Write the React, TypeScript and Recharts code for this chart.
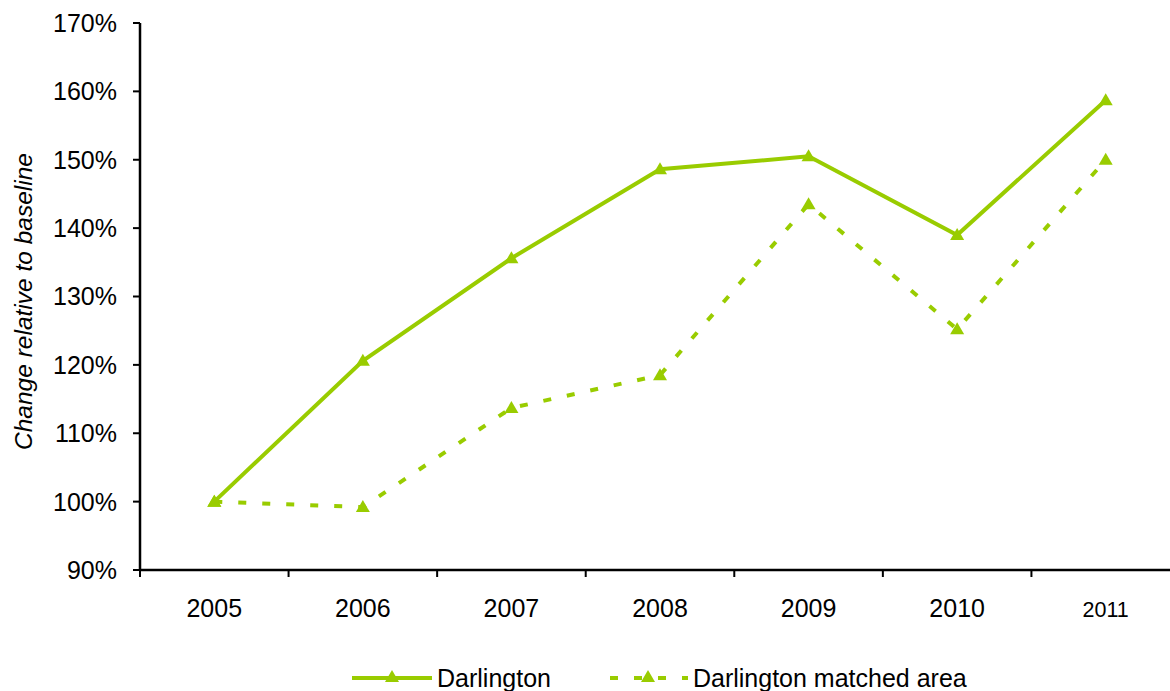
import React from 'react';
import { LineChart, Line, XAxis, YAxis, Legend } from 'recharts';

const years = ['2005', '2006', '2007', '2008', '2009', '2010', '2011'];
const darlington = [100, 120.6, 135.6, 148.6, 150.5, 139.0, 158.7];
const matchedArea = [100, 99.2, 113.7, 118.5, 143.5, 125.2, 150.0];
const yTicks = [90, 100, 110, 120, 130, 140, 150, 160, 170];
const boundaryTicks = [0, 1, 2, 3, 4, 5, 6, 7];
const seriesNames = ['Darlington', 'Darlington matched area'];

const data = years.map((y, i) => ({
  year: y,
  slot: i + 0.5,
  darlington: darlington[i],
  matched: matchedArea[i],
}));

const GREEN = '#99cc00';
const FONT = 'Arial, "Liberation Sans", sans-serif';

const Triangle = (props: any) => {
  const { cx, cy } = props;
  if (cx == null || cy == null) return null;
  return (
    <path
      d={`M${cx},${cy - 7} L${cx + 7},${cy + 5} L${cx - 7},${cy + 5} Z`}
      fill={GREEN}
      stroke="none"
    />
  );
};

const EmptyTick = () => <g />;

const YearTick = (props: any) => {
  const { x, y, payload } = props;
  const small = payload.value === '2011';
  return (
    <text
      x={x}
      y={y + 46}
      textAnchor="middle"
      fill="#000"
      fontFamily={FONT}
      fontSize={small ? 21.5 : 25}
    >
      {payload.value}
    </text>
  );
};

const LegendContent = (props: any) => {
  const { payload } = props;
  return (
    <div style={{ display: 'flex', alignItems: 'center', height: 28, fontFamily: FONT, fontSize: 25, color: '#000' }}>
      {(payload || []).map((entry: any, i: number) => (
        <div key={i} style={{ display: 'flex', alignItems: 'center', marginRight: i === 0 ? 57 : 0 }}>
          <svg width={80} height={28} style={{ display: 'block' }}>
            <line
              x1={0}
              y1={14}
              x2={80}
              y2={14}
              stroke={GREEN}
              strokeWidth={4}
              strokeDasharray={i === 1 ? '8 16' : undefined}
              strokeDashoffset={i === 1 ? -2 : 0}
            />
            <path d="M40,6 L47,18 L33,18 Z" fill={GREEN} />
          </svg>
          <span style={{ marginLeft: 5, lineHeight: '28px' }}>{seriesNames[i] ?? entry.value}</span>
        </div>
      ))}
    </div>
  );
};

export default function App() {
  return (
    <div style={{ position: 'absolute', left: 0, top: 0, width: 1170, height: 691, overflow: 'hidden', background: '#fff' }}>
      <LineChart width={1180} height={691} data={data} margin={{ top: 23, right: 0, left: 0, bottom: 0 }}>
        <XAxis
          xAxisId="a_marks"
          dataKey="slot"
          type="number"
          domain={[0, 7]}
          ticks={boundaryTicks}
          interval={0}
          tick={<EmptyTick />}
          tickLine={{ stroke: '#000', strokeWidth: 2 }}
          tickSize={7}
          axisLine={{ stroke: '#000', strokeWidth: 2.5 }}
          height={1}
          allowDataOverflow
        />
        <XAxis
          xAxisId="b_cat"
          dataKey="year"
          type="category"
          scale="band"
          axisLine={false}
          tickLine={false}
          tickSize={0}
          tickMargin={0}
          tick={<YearTick />}
          height={92}
          interval={0}
        />
        <YAxis
          domain={[90, 170]}
          ticks={yTicks}
          width={140}
          tickSize={7}
          tickMargin={16}
          tickFormatter={(v: number) => `${v}%`}
          tick={{ fill: '#000', fontFamily: FONT, fontSize: 25 }}
          tickLine={{ stroke: '#000', strokeWidth: 2 }}
          axisLine={{ stroke: '#000', strokeWidth: 2.5 }}
          allowDataOverflow
          label={{
            content: (p: any) => {
              const vb = p.viewBox || {};
              const cy = (vb.y ?? 23) + (vb.height ?? 547) / 2 + 5;
              return (
                <text
                  x={23}
                  y={cy}
                  transform={`rotate(-90, 23, ${cy})`}
                  textAnchor="middle"
                  dominantBaseline="central"
                  fontFamily={FONT}
                  fontStyle="italic"
                  fontSize={24.5}
                  fill="#000"
                >
                  Change relative to baseline
                </text>
              );
            },
          }}
        />
        <Line
          xAxisId="b_cat"
          dataKey="darlington"
          name={seriesNames[0]}
          stroke={GREEN}
          strokeWidth={4}
          dot={<Triangle />}
          activeDot={false}
          isAnimationActive={false}
        />
        <Line
          xAxisId="b_cat"
          dataKey="matched"
          name={seriesNames[1]}
          stroke={GREEN}
          strokeWidth={4}
          strokeDasharray="8 16"
          dot={<Triangle />}
          activeDot={false}
          isAnimationActive={false}
        />
        <Legend
          verticalAlign="bottom"
          content={<LegendContent />}
          wrapperStyle={{ left: 352, top: 664, width: 700, height: 28, bottom: 'auto' }}
        />
      </LineChart>
    </div>
  );
}
